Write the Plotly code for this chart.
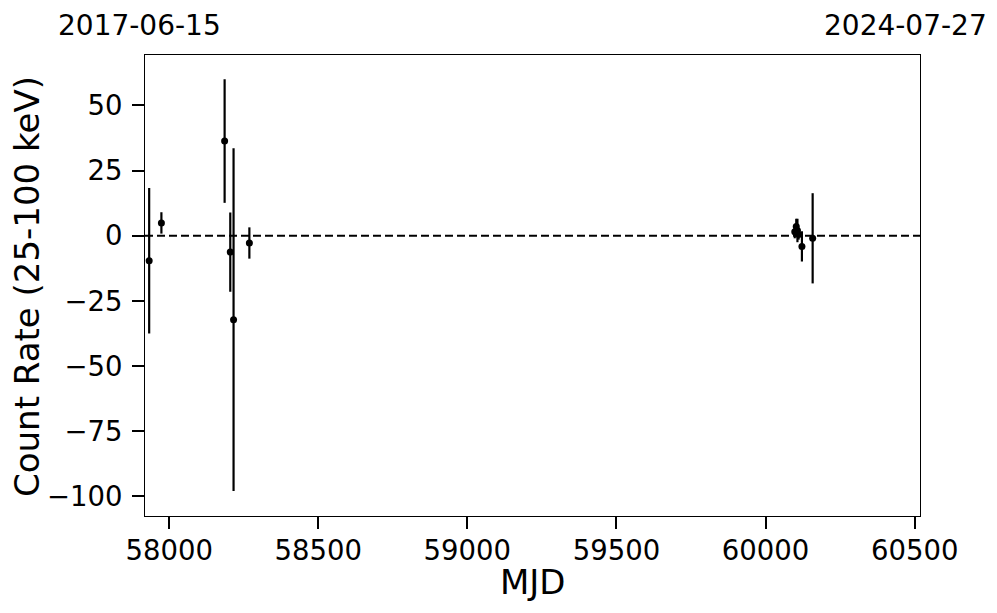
import plotly.graph_objects as go

# Data
mjd = [57933, 57974, 58186, 58205, 58216, 58269,
       60098, 60103, 60107, 60111, 60122, 60158]
rate = [-9.6, 4.9, 36.3, -6.3, -32.2, -2.8,
        1.5, 3.5, 2.0, 0.5, -4.1, -1.0]
err = [27.9, 4.1, 23.7, 15.2, 65.7, 6.0,
       2.5, 3.0, 4.5, 2.0, 5.8, 17.3]

x_range = [57919, 60518]
y_range = [-107.5, 69.3]
x_ticks = [58000, 58500, 59000, 59500, 60000, 60500]
y_ticks = [-100, -75, -50, -25, 0, 25, 50]
start_label = "2017-06-15"
end_label = "2024-07-27"
x_title = "MJD"
y_title = "Count Rate (25-100 keV)"

FONT = "DejaVu Sans"

# The page body has an 8px margin; lay out in page pixels and subtract it.
OFF = 8
W, H = 997 - OFF, 613 - OFF
PL, PR, PT, PB = 145, 920, 55, 516  # plot-area edges in page pixels
L, R, T, B = PL - OFF, 997 - PR, PT - OFF, 613 - PB
pw, ph = W - L - R, H - T - B


def px_x(x):
    return (x - OFF - L) / pw


def px_y(y):
    return 1 - (y - OFF - T) / ph


fig = go.Figure()
fig.add_hline(y=0, line=dict(color="black", width=2, dash="8px,4px"))
fig.add_trace(go.Scatter(
    x=mjd, y=rate, mode="markers",
    marker=dict(color="black", size=7),
    error_y=dict(type="data", array=err, visible=True, color="black",
                 thickness=2.2, width=0),
    showlegend=False,
))

axis_common = dict(
    showgrid=False, zeroline=False, showline=True, linecolor="black",
    linewidth=1, mirror=True, ticks="outside", ticklen=12, tickwidth=2,
    tickcolor="black", tickfont=dict(family=FONT, size=27.5, color="black"),
)
fig.update_xaxes(range=x_range, tickvals=x_ticks, ticklabelstandoff=-2,
                 ticktext=[str(v) for v in x_ticks], **axis_common)
fig.update_yaxes(range=y_range, tickvals=y_ticks, ticklabelstandoff=4,
                 ticktext=[("\u2212" + str(-v)) if v < 0 else str(v) for v in y_ticks],
                 **axis_common)

fig.add_annotation(text=start_label, xref="paper", yref="paper",
                   x=px_x(57), y=px_y(8), xanchor="left", yanchor="top",
                   borderpad=0, showarrow=False,
                   font=dict(family=FONT, size=28, color="black"))
fig.add_annotation(text=end_label, xref="paper", yref="paper",
                   x=px_x(988), y=px_y(8), xanchor="right", yanchor="top",
                   borderpad=0, showarrow=False,
                   font=dict(family=FONT, size=28, color="black"))
fig.add_annotation(text=x_title, xref="paper", yref="paper",
                   x=0.5, y=px_y(582), xanchor="center", yanchor="middle",
                   showarrow=False, font=dict(family=FONT, size=34, color="black"))
fig.add_annotation(text=y_title, xref="paper", yref="paper",
                   x=px_x(27), y=px_y(287), xanchor="center", yanchor="middle",
                   textangle=-90,
                   showarrow=False, font=dict(family=FONT, size=34, color="black"))

fig.update_layout(
    width=W, height=H,
    margin=dict(l=L, r=R, t=T, b=B, pad=0),
    paper_bgcolor="white", plot_bgcolor="white",
    font=dict(family=FONT, color="black"),
)
fig.write_html("out.html")
